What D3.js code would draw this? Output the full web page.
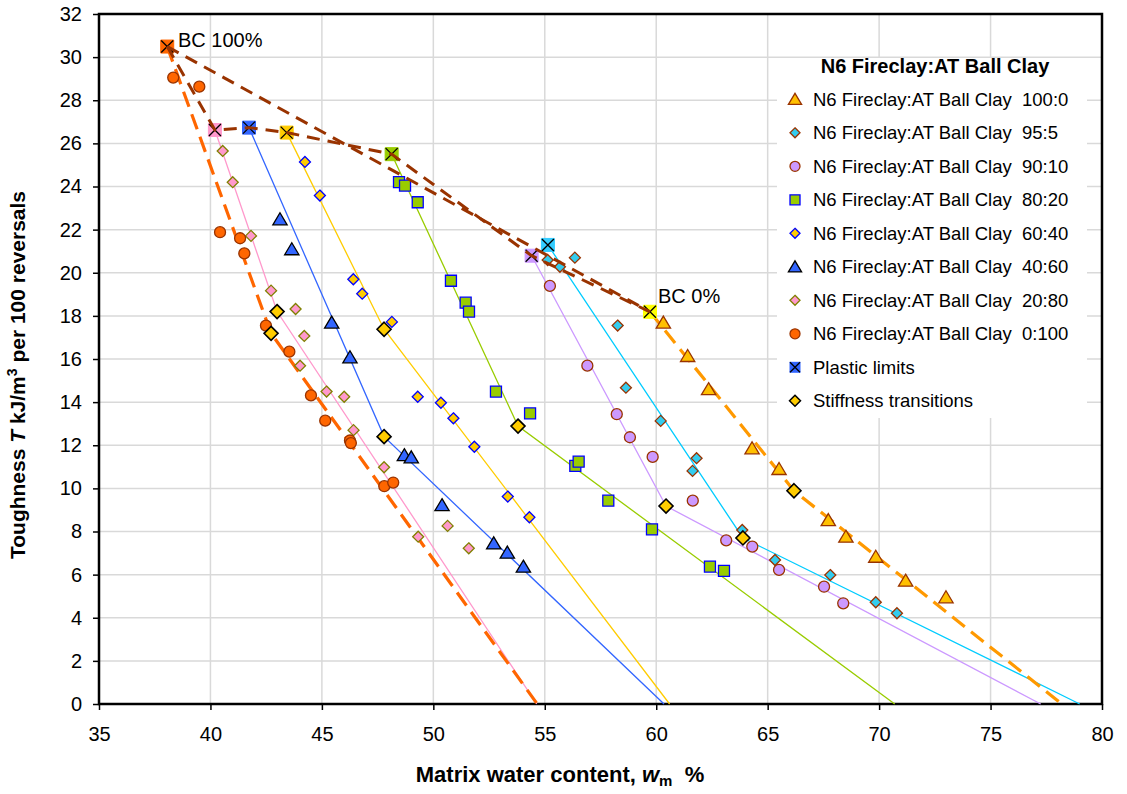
<!DOCTYPE html>
<html><head><meta charset="utf-8">
<script src="https://cdn.jsdelivr.net/npm/d3@7"></script>
<style>body{margin:0;background:#fff;} svg{font-family:"Liberation Sans",Arial,sans-serif;}</style>
</head><body><svg id="c" width="1127" height="794"></svg>
<script>
// ---------- DATA ----------
const xTicks = [35, 40, 45, 50, 55, 60, 65, 70, 75, 80];
const yTicks = [0, 2, 4, 6, 8, 10, 12, 14, 16, 18, 20, 22, 24, 26, 28, 30, 32];

const legendTitle = "N6 Fireclay:AT Ball Clay";
const seriesNames = ["100:0", "95:5", "90:10", "80:20", "60:40", "40:60", "20:80", "0:100"];

const s100_0 = [[60.32,17.69],[61.41,16.14],[62.35,14.60],[64.30,11.86],[65.51,10.90],[67.72,8.53],[68.51,7.76],[69.85,6.83],[71.19,5.72],[73.00,4.95]];
const s95_5 = [[55.13,20.59],[55.68,20.28],[56.35,20.70],[58.27,17.55],[58.64,14.67],[60.20,13.13],[61.81,11.40],[61.63,10.81],[63.86,8.07],[65.33,6.68],[67.81,5.98],[69.85,4.72],[70.80,4.21]];
const s90_10 = [[55.23,19.39],[56.91,15.69],[58.23,13.44],[58.82,12.37],[59.84,11.46],[61.64,9.43],[63.14,7.59],[64.31,7.30],[65.51,6.22],[67.53,5.44],[68.39,4.67]];
const s80_20 = [[48.46,24.20],[48.73,24.04],[49.30,23.27],[50.79,19.63],[51.45,18.61],[51.60,18.20],[52.81,14.49],[54.34,13.48],[56.37,11.04],[56.52,11.24],[57.85,9.43],[59.81,8.10],[62.41,6.37],[63.04,6.17]];
const s60_40 = [[44.24,25.14],[44.91,23.58],[46.41,19.70],[46.81,19.03],[48.14,17.72],[49.30,14.25],[50.34,13.97],[50.90,13.25],[51.84,11.93],[53.34,9.62],[54.31,8.66]];
const s40_60 = [[43.12,22.48],[43.65,21.09],[45.44,17.69],[46.26,16.08],[48.70,11.54],[49.01,11.44],[50.39,9.22],[52.71,7.45],[53.32,7.02],[54.04,6.37]];
const s20_80 = [[40.55,25.65],[41.00,24.20],[41.82,21.71],[42.72,19.17],[43.82,18.32],[44.21,17.07],[44.02,15.69],[45.21,14.49],[46.00,14.25],[46.42,12.70],[47.79,10.98],[49.32,7.76],[50.64,8.26],[51.59,7.22]];
const s0_100 = [[38.33,29.05],[39.50,28.63],[40.43,21.88],[41.33,21.60],[41.52,20.90],[42.49,17.55],[43.54,16.34],[44.51,14.31],[45.15,13.14],[46.26,12.22],[46.30,12.10],[47.80,10.10],[48.20,10.27]];

// fitted lines: plastic limit -> stiffness transition -> intercept
const fit100_0 = [[59.72,18.19],[66.18,9.89],[78.2,0]];
const fit95_5 = [[55.14,21.29],[63.89,7.70],[79.0,0]];
const fit90_10 = [[54.41,20.79],[60.44,9.18],[77.25,0]];
const fit80_20 = [[48.13,25.50],[53.80,12.89],[70.7,0]];
const fit60_40 = [[43.42,26.50],[47.79,17.38],[60.6,0]];
const fit40_60 = [[41.73,26.73],[47.79,12.40],[60.35,0]];
const fit20_80 = [[40.20,26.62],[42.99,18.20],[54.64,0]];
const fit0_100 = [[38.06,30.49],[42.72,17.19],[54.66,0]];

const plasticLimits = [[38.06,30.49],[40.20,26.62],[41.73,26.73],[43.42,26.50],[48.13,25.50],[54.41,20.79],[55.14,21.29],[59.72,18.19]];
const plColors = ["#FF6600","#FF99CC","#3366FF","#FFCC00","#99CC00","#CC99FF","#33CCFF","#FFFF00"];
const stiffness = [[66.18,9.89],[63.89,7.70],[60.44,9.18],[53.80,12.89],[47.79,17.38],[47.79,12.40],[42.99,18.20],[42.72,17.19]];

const mixLine = [[38.06,30.49],[59.72,18.19]];
const plLine = [[38.06,30.49],[40.20,26.62],[41.73,26.73],[43.42,26.50],[48.13,25.50],[54.41,20.79],[59.72,18.19]];

// ---------- DRAW ----------
const svg = d3.select("#c");
const x = d3.scaleLinear().domain([35, 80]).range([99, 1102]);
const y = d3.scaleLinear().domain([0, 32]).range([704, 14]);

// grid
svg.append("g").selectAll("line").data(xTicks).join("line")
  .attr("x1", d => x(d)).attr("x2", d => x(d)).attr("y1", y(0)).attr("y2", y(32))
  .attr("stroke", "#D9D9D9").attr("stroke-width", 1.5);
svg.append("g").selectAll("line").data(yTicks).join("line")
  .attr("x1", x(35)).attr("x2", x(80)).attr("y1", d => y(d)).attr("y2", d => y(d))
  .attr("stroke", "#D9D9D9").attr("stroke-width", 1.5);

// legend background covering grid
svg.append("rect").attr("x", 777).attr("y", 58).attr("width", 310).attr("height", 360).attr("fill", "#fff");

// axes
const xAxis = d3.axisBottom(x).tickValues(xTicks).tickSize(6).tickPadding(17);
const yAxis = d3.axisLeft(y).tickValues(yTicks).tickSize(6).tickPadding(11);
const gx = svg.append("g").attr("transform", `translate(0,${y(0)})`).call(xAxis);
const gy = svg.append("g").attr("transform", `translate(${x(35)},0)`).call(yAxis);
[gx, gy].forEach(g => {
  g.select(".domain").remove();
  g.selectAll(".tick line").attr("stroke", "#000").attr("stroke-width", 1.5);
  g.selectAll(".tick text").attr("font-size", 20).attr("fill", "#000").attr("font-family", "Liberation Sans, Arial, sans-serif");
});
// frame
svg.append("rect").attr("x", x(35)).attr("y", y(32)).attr("width", x(80) - x(35)).attr("height", y(0) - y(32))
  .attr("fill", "none").attr("stroke", "#000").attr("stroke-width", 2.5);

// axis titles
const xt = svg.append("text").attr("x", 560).attr("y", 782).attr("text-anchor", "middle")
  .attr("font-size", 22).attr("font-weight", "bold").attr("xml:space", "preserve").style("white-space", "pre");
xt.append("tspan").text("Matrix water content, ");
xt.append("tspan").attr("font-style", "italic").text("w");
xt.append("tspan").attr("font-size", 15).attr("dy", 4).text("m");
xt.append("tspan").attr("dy", -4).text("  %");

const yt = svg.append("text").attr("transform", "translate(25,375) rotate(-90)").attr("text-anchor", "middle")
  .attr("font-size", 21).attr("font-weight", "bold");
yt.append("tspan").text("Toughness ");
yt.append("tspan").attr("font-style", "italic").text("T");
yt.append("tspan").text(" kJ/m");
yt.append("tspan").attr("font-size", 14).attr("dy", -8).text("3");
yt.append("tspan").attr("dy", 8).text(" per 100 reversals");

const line = d3.line().x(d => x(d[0])).y(d => y(d[1]));

// fit lines
const fits = [
  {d: fit95_5, c: "#00CCFF", w: 1.3},
  {d: fit90_10, c: "#CC99FF", w: 1.3},
  {d: fit80_20, c: "#99CC00", w: 1.3},
  {d: fit60_40, c: "#FFCC00", w: 1.3},
  {d: fit40_60, c: "#3366FF", w: 1.3},
  {d: fit20_80, c: "#FF99CC", w: 1.3},
  {d: fit100_0, c: "#FF9900", w: 3.2, dash: "16,8"},
  {d: fit0_100, c: "#FF6600", w: 3.2, dash: "16,8"},
];
fits.forEach(f => {
  svg.append("path").attr("d", line(f.d)).attr("fill", "none").attr("stroke", f.c)
    .attr("stroke-width", f.w).attr("stroke-dasharray", f.dash || null);
});

// marker shapes
function shapePath(shape, r) {
  if (shape === "tri") return `M0,${-r}L${r*1.1},${r*0.85}L${-r*1.1},${r*0.85}Z`;
  if (shape === "dia") return `M0,${-r}L${r},0L0,${r}L${-r},0Z`;
  if (shape === "sq") return `M${-r},${-r}H${r}V${r}H${-r}Z`;
  return `M${r},0A${r},${r} 0 1,1 ${-r},0A${r},${r} 0 1,1 ${r},0Z`;
}
const seriesStyle = [
  {d: s100_0, shape: "tri", r: 6.5, fill: "#FFC000", stroke: "#993300"},
  {d: s95_5, shape: "dia", r: 5.5, fill: "#33CCEE", stroke: "#993300"},
  {d: s90_10, shape: "circ", r: 5.5, fill: "#CC99FF", stroke: "#993300"},
  {d: s80_20, shape: "sq", r: 5.5, fill: "#99CC00", stroke: "#0000FF"},
  {d: s60_40, shape: "dia", r: 5.5, fill: "#FFCC00", stroke: "#0000FF"},
  {d: s40_60, shape: "tri", r: 6.5, fill: "#3366FF", stroke: "#000000"},
  {d: s20_80, shape: "dia", r: 5.5, fill: "#FF99CC", stroke: "#808000"},
  {d: s0_100, shape: "circ", r: 5.5, fill: "#FF6600", stroke: "#993300"},
];
seriesStyle.forEach(s => {
  svg.append("g").selectAll("path").data(s.d).join("path")
    .attr("transform", d => `translate(${x(d[0])},${y(d[1])})`)
    .attr("d", shapePath(s.shape, s.r)).attr("fill", s.fill).attr("stroke", s.stroke).attr("stroke-width", 1.3);
});

// stiffness transitions
svg.append("g").selectAll("path").data(stiffness).join("path")
  .attr("transform", d => `translate(${x(d[0])},${y(d[1])})`)
  .attr("d", shapePath("dia", 7)).attr("fill", "#FFCC00").attr("stroke", "#000").attr("stroke-width", 1.6);

// plastic limits
const plG = svg.append("g").selectAll("g").data(plasticLimits).join("g")
  .attr("transform", d => `translate(${x(d[0])},${y(d[1])})`);
plG.append("path").attr("d", shapePath("sq", 6.5)).attr("fill", (d, i) => plColors[i]).attr("stroke", (d, i) => plColors[i]).attr("stroke-width", 1);
plG.append("path").attr("d", "M-6,-6L6,6M6,-6L-6,6").attr("stroke", "#000").attr("stroke-width", 1.3);

// brown plastic-limit lines
svg.append("path").attr("d", line(mixLine)).attr("fill", "none").attr("stroke", "#993300")
  .attr("stroke-width", 3).attr("stroke-dasharray", "13,8");
svg.append("path").attr("d", line(plLine)).attr("fill", "none").attr("stroke", "#993300")
  .attr("stroke-width", 3).attr("stroke-dasharray", "13,8");

// labels
svg.append("text").attr("x", 178).attr("y", 47).attr("font-size", 20).text("BC 100%");
svg.append("text").attr("x", 658).attr("y", 303).attr("font-size", 20).text("BC 0%");

// legend
svg.append("text").attr("x", 935).attr("y", 73).attr("text-anchor", "middle")
  .attr("font-size", 20).attr("font-weight", "bold").text(legendTitle);
const legItems = seriesStyle.map((s, i) => ({label: `${legendTitle}\u00a0\u00a0${seriesNames[i]}`, s}));
legItems.push({label: "Plastic limits", pl: true});
legItems.push({label: "Stiffness transitions", st: true});
legItems.forEach((it, i) => {
  const cy = 99.3 + i * 33.5;
  const g = svg.append("g").attr("transform", `translate(795,${cy})`);
  if (it.s) {
    g.append("path").attr("d", shapePath(it.s.shape, it.s.shape === "tri" ? 6 : 5))
      .attr("fill", it.s.fill).attr("stroke", it.s.stroke).attr("stroke-width", 1.3);
  } else if (it.pl) {
    g.append("path").attr("d", shapePath("sq", 5.5)).attr("fill", "#3366FF");
    g.append("path").attr("d", "M-5,-5L5,5M5,-5L-5,5").attr("stroke", "#000").attr("stroke-width", 1.3);
  } else {
    g.append("path").attr("d", shapePath("dia", 5.5)).attr("fill", "#FFCC00").attr("stroke", "#000").attr("stroke-width", 1.5);
  }
  svg.append("text").attr("x", 813).attr("y", cy + 6.5).attr("font-size", 18.5).text(it.label);
});
</script></body></html>
